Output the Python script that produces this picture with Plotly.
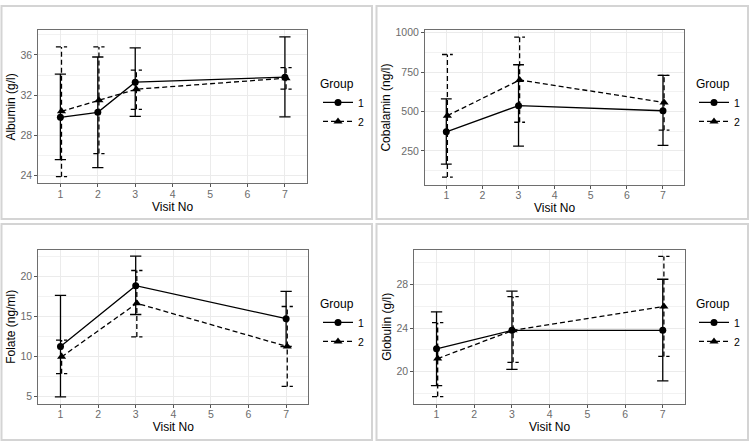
import plotly.graph_objects as go

# ---------------- data ----------------
visits_alb = [1, 2, 3, 7]
alb_g1_mean = [29.8, 30.3, 33.3, 33.8]
alb_g1_hi = [34.1, 35.8, 36.7, 37.8]
alb_g1_lo = [25.6, 24.8, 29.9, 29.85]
alb_g2_mean = [30.4, 31.5, 32.6, 33.7]
alb_g2_hi = [36.8, 36.8, 34.5, 34.75]
alb_g2_lo = [23.9, 26.2, 30.6, 32.6]

visits = [1, 3, 7]
cob_g1_mean = [371, 537, 505]
cob_g1_hi = [581, 797, 730]
cob_g1_lo = [166, 281, 285]
cob_g2_mean = [474, 700, 558]
cob_g2_hi = [862, 973, 730]
cob_g2_lo = [84, 432, 382]

fol_g1_mean = [11.2, 18.8, 14.67]
fol_g1_hi = [17.6, 22.5, 18.1]
fol_g1_lo = [4.9, 15.2, 11.2]
fol_g2_mean = [9.9, 16.6, 11.2]
fol_g2_hi = [12.0, 20.7, 16.2]
fol_g2_lo = [7.8, 12.4, 6.2]

glob_g1_mean = [22.1, 23.8, 23.8]
glob_g1_hi = [25.5, 27.4, 28.5]
glob_g1_lo = [18.7, 20.2, 19.15]
glob_g2_mean = [21.2, 23.8, 26.0]
glob_g2_hi = [24.5, 26.9, 30.6]
glob_g2_lo = [17.7, 20.85, 21.4]

groups = ["1", "2"]
x_title = "Visit No"

W, H = 750, 441

panels = [
    dict(yt="Albumin (g/l)", v=visits_alb,
         g=[(alb_g1_mean, alb_g1_lo, alb_g1_hi), (alb_g2_mean, alb_g2_lo, alb_g2_hi)],
         px=(38.3, 307), py=(26.7, 181), yr=(23.24, 38.44), dt=4, mdt=2,
         box=(1.5, 372, 2, 217), leg=(318, 69)),
    dict(yt="Cobalamin (ng/l)", v=visits,
         g=[(cob_g1_mean, cob_g1_lo, cob_g1_hi), (cob_g2_mean, cob_g2_lo, cob_g2_hi)],
         px=(425, 684.3), py=(26.7, 182.3), yr=(36, 1014.7), dt=250, mdt=125,
         box=(376.5, 748, 2, 217), leg=(694, 69)),
    dict(yt="Folate (ng/ml)", v=visits,
         g=[(fol_g1_mean, fol_g1_lo, fol_g1_hi), (fol_g2_mean, fol_g2_lo, fol_g2_hi)],
         px=(38.3, 308.3), py=(248.3, 403.3), yr=(4.05, 23.26), dt=5, mdt=2.5,
         box=(1.5, 372, 222, 440), leg=(318, 291)),
    dict(yt="Globulin (g/l)", v=visits,
         g=[(glob_g1_mean, glob_g1_lo, glob_g1_hi), (glob_g2_mean, glob_g2_lo, glob_g2_hi)],
         px=(414.3, 685), py=(248.3, 403.3), yr=(17.05, 31.19), dt=4, mdt=2,
         box=(376.5, 748, 222, 440), leg=(694, 291)),
]

dodge = [0.0, 0.03]
cap = 0.15
dashes = ["solid", "5px,3px"]
symbols = ["circle", "triangle-up"]
msize = [7, 8]
FONT = "Liberation Sans, Arial"

fig = go.Figure()
layout = dict(width=W, height=H, margin=dict(l=0, r=0, t=0, b=0),
              paper_bgcolor="white", plot_bgcolor="white", shapes=[])

for i, p in enumerate(panels):
    n = "" if i == 0 else str(i + 1)
    xa, ya = "x" + n, "y" + n
    legname = "legend" + n
    for gi, (mean, lo, hi) in enumerate(p["g"]):
        xs = [v + dodge[gi] for v in p["v"]]
        # error bars as segments built from the data arrays
        ex, ey = [], []
        for xv, l, h in zip(xs, lo, hi):
            ex += [xv, xv, None, xv - cap, xv + cap, None, xv - cap, xv + cap, None]
            ey += [l, h, None, h, h, None, l, l, None]
        fig.add_trace(go.Scatter(x=ex, y=ey, mode="lines", xaxis=xa, yaxis=ya,
                                 line=dict(color="black", width=1.3, dash=dashes[gi]),
                                 showlegend=False, hoverinfo="skip"))
        fig.add_trace(go.Scatter(x=xs, y=mean, mode="lines+markers", xaxis=xa, yaxis=ya,
                                 name=groups[gi], legend=legname,
                                 line=dict(color="black", width=1.3, dash=dashes[gi]),
                                 marker=dict(symbol=symbols[gi], size=msize[gi], color="black")))
    x0, x1 = p["px"]
    y0, y1 = p["py"]
    axis_common = dict(showline=True, mirror=True, linecolor="#6e6e6e", linewidth=1,
                       ticks="outside", ticklen=3, tickcolor="#555555", tickwidth=1,
                       showgrid=True, gridcolor="#ebebeb", gridwidth=1, zeroline=False,
                       tickfont=dict(family=FONT, size=10.5, color="#6b6b6b"))
    layout["xaxis" + n] = dict(axis_common, domain=[x0 / W, x1 / W], range=[0.41, 7.59],
                               dtick=1, tick0=0, anchor=ya, ticklabelstandoff=-2,
                               title=dict(text=x_title, standoff=3,
                                          font=dict(family=FONT, size=12, color="black")))
    layout["yaxis" + n] = dict(axis_common, domain=[1 - y1 / H, 1 - y0 / H], range=list(p["yr"]),
                               dtick=p["dt"], tick0=0, anchor=xa,
                               minor=dict(dtick=p["mdt"], tick0=0, showgrid=True,
                                          gridcolor="#f2f2f2", gridwidth=0.6, ticks=""),
                               title=dict(text=p["yt"], standoff=2,
                                          font=dict(family=FONT, size=12, color="black")))
    lx, ly = p["leg"]
    layout[legname] = dict(x=lx / W, y=1 - ly / H, xanchor="left", yanchor="top",
                           bgcolor="rgba(0,0,0,0)", itemwidth=30, tracegroupgap=0,
                           title=dict(text="Group", font=dict(family=FONT, size=12, color="black")),
                           font=dict(family=FONT, size=10.5, color="black"))
    bx0, bx1, by0, by1 = p["box"]
    layout["shapes"].append(dict(type="rect", xref="paper", yref="paper",
                                 x0=bx0 / W, x1=bx1 / W, y0=1 - by1 / H, y1=1 - by0 / H,
                                 line=dict(color="#d4d4d4", width=2), layer="below"))

fig.update_layout(**layout)
fig.write_html("out.html", config={"displayModeBar": False},
               post_script="document.body.style.margin='0';document.body.style.overflow='hidden';")
